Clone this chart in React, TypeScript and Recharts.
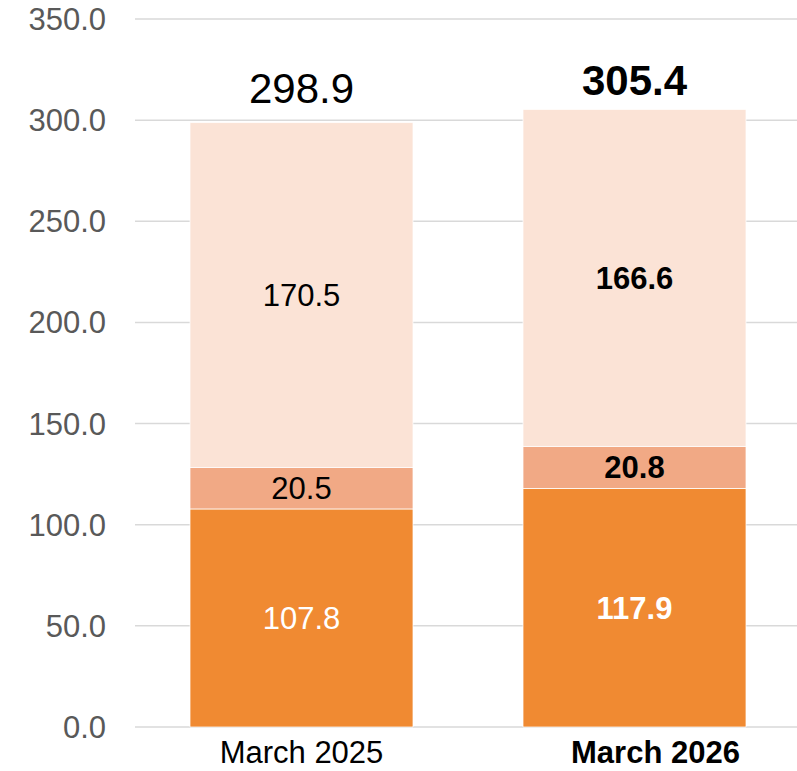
import { BarChart, Bar, XAxis, YAxis, CartesianGrid, LabelList } from 'recharts';

const categories = ['March 2025', 'March 2026'];
const baseValues = [107.8, 117.9];
const midValues = [20.5, 20.8];
const topValues = [170.5, 166.6];
const totals = [298.9, 305.4];
const yTicks = [0, 50, 100, 150, 200, 250, 300, 350];

const FONT = '"Liberation Sans", Arial, sans-serif';
const DARK = '#F08A32';
const MID = '#F1A985';
const LIGHT = '#FBE3D6';

const data = categories.map((c, i) => ({
  name: c,
  base: baseValues[i],
  mid: midValues[i],
  top: topValues[i],
  total: totals[i],
}));

// second category is drawn bold everywhere
const isBold = (i: number) => i === 1;

const segmentLabel = (color: string) => (props: any) => {
  const { x, y, width, height, value, index } = props;
  return (
    <text
      x={x + width / 2}
      y={y + height / 2}
      dy="0.355em"
      textAnchor="middle"
      fontFamily={FONT}
      fontSize={31}
      fontWeight={isBold(index) ? 'bold' : 'normal'}
      fill={color}
    >
      {Number(value).toFixed(1)}
    </text>
  );
};

const totalLabel = (props: any) => {
  const { x, y, width, index } = props;
  const lift = index === 1 ? 14 : 20;
  return (
    <text
      x={x + width / 2}
      y={y - lift}
      textAnchor="middle"
      fontFamily={FONT}
      fontSize={42}
      fontWeight={isBold(index) ? 'bold' : 'normal'}
      fill="#000"
    >
      {totals[index].toFixed(1)}
    </text>
  );
};

// the bold label sits a little right of its bar in the original
const XTick = ({ x, y, payload, index }: any) => (
  <text
    x={x + (index === 1 ? 21 : 0)}
    y={y + 36}
    textAnchor="middle"
    fontFamily={FONT}
    fontSize={31}
    fontWeight={isBold(index) ? 'bold' : 'normal'}
    fill="#000"
  >
    {payload.value}
  </text>
);

const YTick = ({ x, y, payload }: any) => (
  <text
    x={x - 29}
    y={y}
    dy="0.355em"
    textAnchor="end"
    fontFamily={FONT}
    fontSize={31}
    fill="#595959"
  >
    {Number(payload.value).toFixed(1)}
  </text>
);

export default function App() {
  return (
    <div style={{ position: 'absolute', left: 0, top: 0, background: '#fff' }}>
      <BarChart
        width={797}
        height={771}
        data={data}
        margin={{ top: 19, right: -4, left: 0, bottom: 0 }}
      >
        <CartesianGrid vertical={false} stroke="#D9D9D9" strokeWidth={1.5} />
        <XAxis
          dataKey="name"
          axisLine={false}
          tickLine={false}
          tickSize={0}
          tickMargin={0}
          height={44}
          tick={<XTick />}
          interval={0}
        />
        <YAxis
          domain={[0, 350]}
          ticks={yTicks}
          axisLine={false}
          tickLine={false}
          tickSize={0}
          tickMargin={0}
          width={135}
          tick={<YTick />}
          interval={0}
        />
        <Bar dataKey="base" stackId="a" fill={DARK} stroke="#fff" strokeWidth={0.75} barSize={223} isAnimationActive={false}>
          <LabelList dataKey="base" content={segmentLabel('#fff')} />
        </Bar>
        <Bar dataKey="mid" stackId="a" fill={MID} stroke="#fff" strokeWidth={0.75} barSize={223} isAnimationActive={false}>
          <LabelList dataKey="mid" content={segmentLabel('#000')} />
        </Bar>
        <Bar dataKey="top" stackId="a" fill={LIGHT} stroke="#fff" strokeWidth={0.75} barSize={223} isAnimationActive={false}>
          <LabelList dataKey="top" content={segmentLabel('#000')} />
          <LabelList dataKey="total" content={totalLabel} />
        </Bar>
      </BarChart>
    </div>
  );
}
